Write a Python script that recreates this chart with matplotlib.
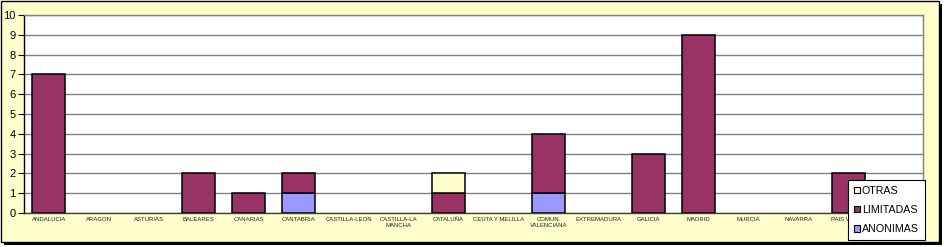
import numpy as np
import matplotlib
matplotlib.use('Agg')
import matplotlib.pyplot as plt
from matplotlib.patches import Rectangle, Patch

plt.rcParams['font.family'] = ['Liberation Sans', 'DejaVu Sans']

# --- DATA ---
regiones = ['ANDALUCIA', 'ARAGON', 'ASTURIAS', 'BALEARES', 'CANARIAS', 'CANTABRIA',
            'CASTILLA-LEON', 'CASTILLA-LA\nMANCHA', 'CATALUÑA', 'CEUTA Y MELILLA',
            'COMUN.\nVALENCIANA', 'EXTREMADURA', 'GALICIA', 'MADRID', 'MURCIA',
            'NAVARRA', 'PAIS VASCO', 'RIOJA']
anonimas  = [0, 0, 0, 0, 0, 1, 0, 0, 0, 0, 1, 0, 0, 0, 0, 0, 0, 0]
limitadas = [7, 0, 0, 2, 1, 1, 0, 0, 1, 0, 3, 0, 3, 9, 0, 0, 2, 0]
otras     = [0, 0, 0, 0, 0, 0, 0, 0, 1, 0, 0, 0, 0, 0, 0, 0, 0, 0]

c_anon = '#9999FF'
c_lim = '#993366'
c_otr = '#FFFFCC'

W, H = 944, 247
fig = plt.figure(figsize=(W / 100, H / 100), dpi=100, facecolor='white')

# --- frame with shadow ---
def px(x0, y0, x1, y1, **kw):
    # pixel box (top-left origin) -> figure rectangle
    r = Rectangle((x0 / W, 1 - y1 / H), (x1 - x0) / W, (y1 - y0) / H,
                  transform=fig.transFigure, **kw)
    fig.patches.append(r)

px(4, 4, 942, 245, facecolor='black', edgecolor='none', zorder=0)
px(1, 1, 939, 242, facecolor=c_otr, edgecolor='black', linewidth=1, zorder=1)

ax = fig.add_axes([24 / W, 1 - 213 / H, (923 - 24) / W, (213 - 15) / H])
ax.set_facecolor('white')
ax.set_zorder(2)

x = np.arange(len(regiones))
bw = 0.66
anon = np.array(anonimas)
lim = np.array(limitadas)
otr = np.array(otras)
kw = dict(width=bw, edgecolor='black', linewidth=1.1, zorder=3)

# only draw segments with a value, so empty regions show no edge line
m = anon > 0
ax.bar(x[m], anon[m], color=c_anon, **kw)
m = lim > 0
ax.bar(x[m], lim[m], bottom=anon[m], color=c_lim, **kw)
m = otr > 0
ax.bar(x[m], otr[m], bottom=(anon + lim)[m], color=c_otr, **kw)

ax.set_xlim(-0.5, len(regiones) - 0.5)
ax.set_ylim(0, 10)
ax.set_yticks(range(0, 11))
ax.yaxis.grid(True, color='#808080', linewidth=1.0, zorder=1)
ax.set_axisbelow(True)

ax.tick_params(axis='y', length=4, width=0.8, color='black', labelsize=8, pad=2)
ax.set_xticks(x)
ax.set_xticklabels(regiones, fontsize=4.3, color='#222222', linespacing=1.1, va='top')
ax.tick_params(axis='x', length=0, pad=3)

for s in ['top', 'right']:
    ax.spines[s].set_color('#808080')
    ax.spines[s].set_linewidth(1)
ax.spines['left'].set_color('black')
ax.spines['left'].set_linewidth(1)
ax.spines['bottom'].set_color('#404040')
ax.spines['bottom'].set_linewidth(1)

handles = [Patch(facecolor=c_otr, edgecolor='black', linewidth=0.8),
           Patch(facecolor=c_lim, edgecolor='black', linewidth=0.8),
           Patch(facecolor=c_anon, edgecolor='black', linewidth=0.8)]
leg = fig.legend(handles, ['OTRAS', 'LIMITADAS', 'ANONIMAS'],
                 loc='upper left', bbox_to_anchor=(848 / W, 1 - 180 / H),
                 fontsize=7.7, frameon=True, fancybox=False, framealpha=1,
                 edgecolor='black', handlelength=0.55, handleheight=0.55,
                 handletextpad=0.2, labelspacing=0.85, borderpad=0.55,
                 borderaxespad=0)
leg.get_frame().set_linewidth(0.8)
leg.set_zorder(10)

fig.savefig('out.png', dpi=100, facecolor=fig.get_facecolor())
